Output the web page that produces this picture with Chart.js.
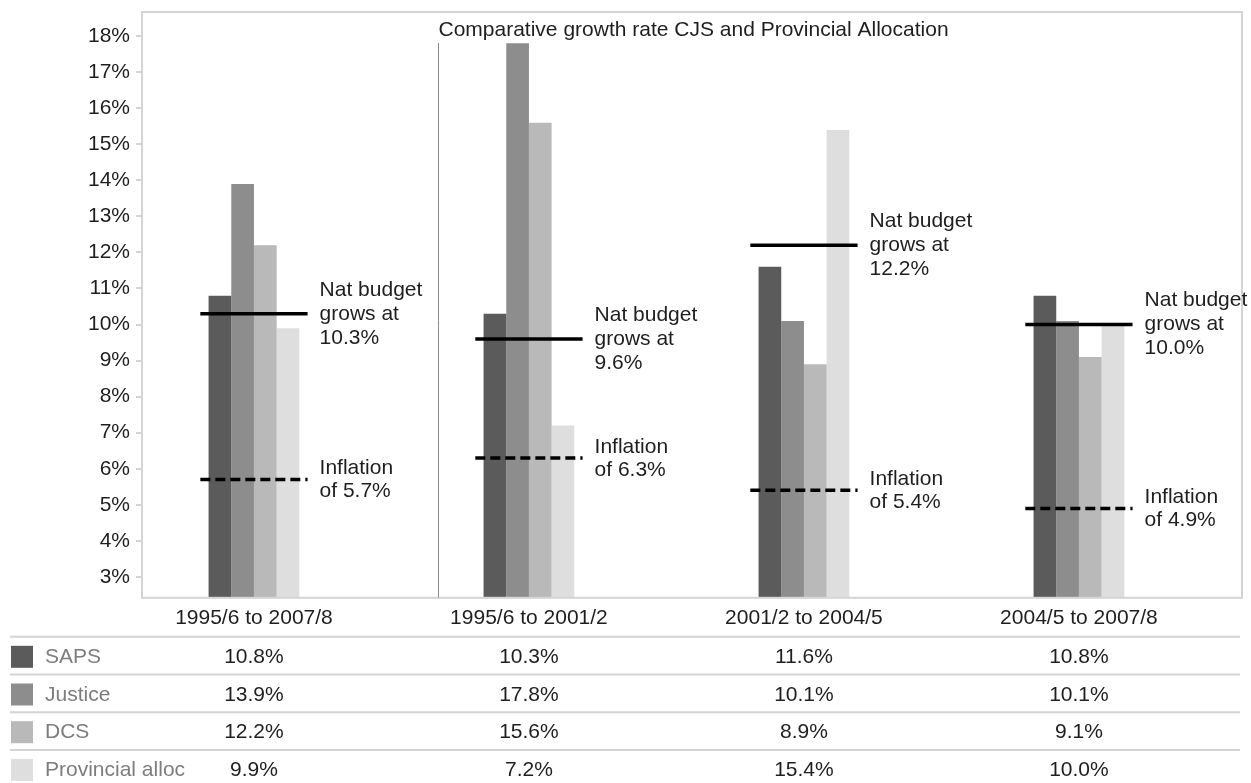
<!DOCTYPE html>
<html>
<head>
<meta charset="utf-8">
<script src="https://cdn.jsdelivr.net/npm/chart.js@4"></script>
<style>
html, body { margin: 0; padding: 0; background: #fff; }
#wrap { width: 1251px; height: 783px; }
</style>
</head>
<body>
<div id="wrap"><canvas id="chart"></canvas></div>
<script>
// data
const periods = ["1995/6 to 2007/8", "1995/6 to 2001/2", "2001/2 to 2004/5", "2004/5 to 2007/8"];
const seriesNames = ["SAPS", "Justice", "DCS", "Provincial alloc"];
const saps = [10.8, 10.3, 11.6, 10.8];
const justice = [13.9, 17.8, 10.1, 10.1];
const dcs = [12.2, 15.6, 8.9, 9.1];
const provincial = [9.9, 7.2, 15.4, 10.0];
const natBudget = [10.3, 9.6, 12.2, 10.0];
const inflation = [5.7, 6.3, 5.4, 4.9];
const yTicks = [3, 4, 5, 6, 7, 8, 9, 10, 11, 12, 13, 14, 15, 16, 17, 18];
const chartTitle = "Comparative growth rate CJS and Provincial Allocation";

const seriesValues = [saps, justice, dcs, provincial];
const colours = ["#5b5b5b", "#8d8d8d", "#b9b9b9", "#dedede"];
const FONT = "'Liberation Sans', Arial, sans-serif";
const TEXT = "#1e1e1e";
const lineHalf = 0.195;   // half length of the reference lines, in category units
const dividerAt = 0.67;   // thin line splitting the full period from the sub periods

function barData(vals) {
    return vals.map((v, i) => ({ x: i, y: v }));
}

function refLine(vals) {
    const pts = [];
    vals.forEach((v, i) => {
        pts.push({ x: i - lineHalf, y: v }, { x: i + lineHalf, y: v }, { x: i + 0.5, y: null });
    });
    return pts;
}

const datasets = seriesNames.map((name, s) => ({
    type: "bar",
    label: name,
    data: barData(seriesValues[s]),
    backgroundColor: colours[s],
    categoryPercentage: 0.33,
    barPercentage: 1.0,
    order: 2
}));

datasets.push({
    type: "line",
    label: "Nat budget",
    data: refLine(natBudget),
    borderColor: "#000",
    borderWidth: 3.5,
    pointRadius: 0,
    spanGaps: false,
    order: 1
});
datasets.push({
    type: "line",
    label: "Inflation",
    data: refLine(inflation),
    borderColor: "#000",
    borderWidth: 3.5,
    borderDash: [10, 5],
    pointRadius: 0,
    spanGaps: false,
    order: 1
});

const extras = {
    id: "extras",
    afterDatasetsDraw(chart) {
        const ctx = chart.ctx;
        const ca = chart.chartArea;
        const x = chart.scales.x;
        const y = chart.scales.y;

        ctx.save();
        // plot frame
        ctx.strokeStyle = "#d4d4d4";
        ctx.lineWidth = 2;
        ctx.strokeRect(ca.left, ca.top, ca.right - ca.left, ca.bottom - ca.top);

        // divider and title
        const dx = Math.round(x.getPixelForValue(dividerAt)) + 0.5;
        ctx.strokeStyle = "#8a8a8a";
        ctx.lineWidth = 1;
        ctx.beginPath();
        ctx.moveTo(dx, ca.top + 31);
        ctx.lineTo(dx, ca.bottom);
        ctx.stroke();

        ctx.fillStyle = TEXT;
        ctx.font = "21px " + FONT;
        ctx.textAlign = "left";
        ctx.textBaseline = "middle";
        ctx.fillText(chartTitle, dx, ca.top + 18);

        // labels next to the reference lines
        periods.forEach((p, i) => {
            const tx = x.getPixelForValue(i + lineHalf) + 12;
            const ny = y.getPixelForValue(natBudget[i]);
            ctx.fillText("Nat budget", tx, ny - 24);
            ctx.fillText("grows at", tx, ny);
            ctx.fillText(natBudget[i].toFixed(1) + "%", tx, ny + 24);
            const iy = y.getPixelForValue(inflation[i]);
            ctx.fillText("Inflation", tx, iy - 11);
            ctx.fillText("of " + inflation[i].toFixed(1) + "%", tx, iy + 12);
        });

        // data table
        const rowTop = ca.bottom + 39;
        const rowH = 37.7;
        seriesNames.forEach((name, s) => {
            const top = rowTop + s * rowH;
            ctx.strokeStyle = "#d4d4d4";
            ctx.lineWidth = 2;
            ctx.beginPath();
            ctx.moveTo(10, top);
            ctx.lineTo(1240, top);
            ctx.stroke();

            const cy = top + 20.5;
            ctx.fillStyle = colours[s];
            ctx.fillRect(11, top + 9, 22, 22);
            ctx.fillStyle = "#7d7d7d";
            ctx.textAlign = "left";
            ctx.fillText(name, 45, cy);
            ctx.fillStyle = TEXT;
            ctx.textAlign = "center";
            seriesValues[s].forEach((v, i) => {
                ctx.fillText(v.toFixed(1) + "%", x.getPixelForValue(i), cy);
            });
        });
        ctx.restore();
    }
};

new Chart(document.getElementById("chart"), {
    type: "bar",
    data: { datasets: datasets },
    options: {
        responsive: true,
        maintainAspectRatio: false,
        animation: false,
        layout: { padding: { left: 82, top: 12, right: 9, bottom: 144 } },
        plugins: {
            legend: { display: false },
            tooltip: { enabled: false },
            title: { display: false }
        },
        scales: {
            x: {
                type: "linear",
                offset: false,
                min: -0.407,
                max: 3.593,
                grid: { display: false, drawTicks: false },
                border: { display: false },
                afterBuildTicks: axis => {
                    axis.ticks = periods.map((p, i) => ({ value: i }));
                },
                ticks: {
                    autoSkip: false,
                    maxRotation: 0,
                    padding: 8,
                    color: TEXT,
                    font: { family: FONT, size: 21 },
                    callback: v => periods[v]
                }
            },
            y: {
                min: 2.42,
                max: 18.67,
                grid: { drawOnChartArea: false, drawTicks: true, tickLength: 6, color: "#d4d4d4", lineWidth: 2 },
                border: { display: false },
                afterBuildTicks: axis => {
                    axis.ticks = yTicks.map(v => ({ value: v }));
                },
                ticks: {
                    padding: 6,
                    color: TEXT,
                    font: { family: FONT, size: 21, lineHeight: 0.5 },
                    callback: v => v + "%"
                }
            }
        }
    },
    plugins: [extras]
});
</script>
</body>
</html>
